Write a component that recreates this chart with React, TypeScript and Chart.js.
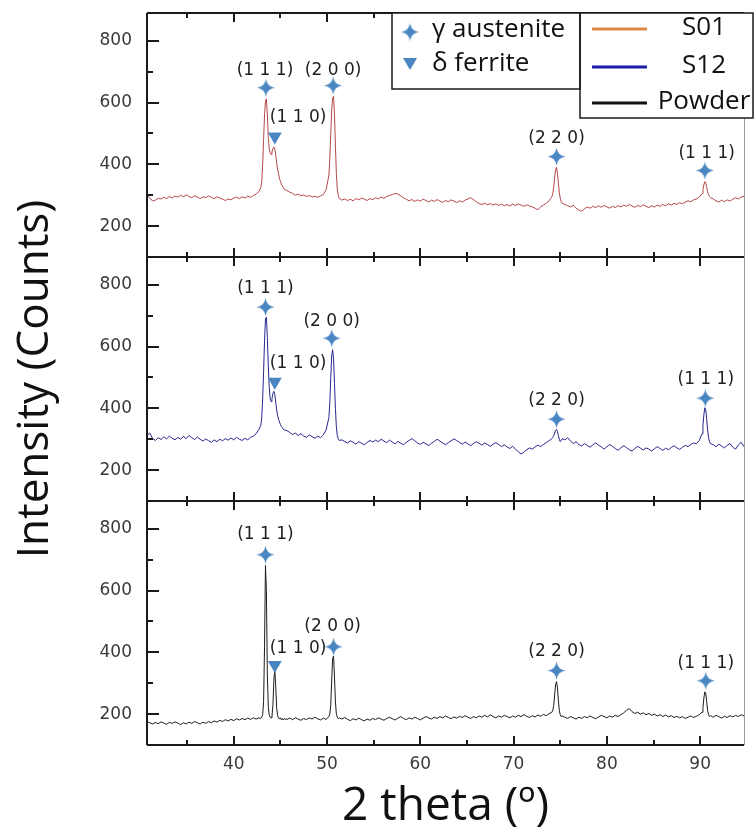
import React, { useEffect, useRef } from 'react';
import { Chart, registerables } from 'chart.js';

Chart.register(...registerables);

// ---------- data ----------
const twoTheta = [
  30.7, 31.0, 31.3, 31.6, 31.9, 32.2, 32.5, 32.8, 33.1, 33.4, 33.7, 34.0, 34.3, 34.6, 34.9, 35.2, 35.5, 35.8, 36.1, 36.4, 36.7, 37.0, 37.3, 37.6, 37.9, 38.2, 38.5, 38.8, 39.1, 39.4, 39.7, 40.0, 40.3, 40.6, 40.9, 41.2, 41.5, 41.8, 42.1, 42.4, 42.7,
  42.9, 43.0, 43.1, 43.2, 43.3, 43.4, 43.5, 43.6, 43.7, 43.8, 43.9, 44.0, 44.1, 44.2, 44.3, 44.4, 44.5, 44.6, 44.7, 44.8, 44.9, 45.0, 45.1, 45.2, 45.3, 45.4,
  45.7, 46.0, 46.3, 46.6, 46.9, 47.2, 47.5, 47.8, 48.1, 48.4, 48.7, 49.0, 49.3, 49.6, 49.9, 50.2,
  50.3, 50.4, 50.5, 50.6, 50.7, 50.8, 50.9, 51.0, 51.1, 51.2, 51.3,
  51.6, 51.9, 52.2, 52.5, 52.8, 53.1, 53.4, 53.7, 54.0, 54.3, 54.6, 54.9, 55.2, 55.5, 55.8, 56.1, 56.4, 56.7, 57.0, 57.3, 57.6, 57.9, 58.2, 58.5, 58.8, 59.1, 59.4, 59.7, 60.0, 60.3, 60.6, 60.9, 61.2, 61.5, 61.8, 62.1, 62.4, 62.7, 63.0, 63.3, 63.6, 63.9, 64.2, 64.5, 64.8, 65.1, 65.4, 65.7, 66.0, 66.3, 66.6, 66.9, 67.2, 67.5, 67.8, 68.1, 68.4, 68.7, 69.0, 69.3, 69.6, 69.9, 70.2, 70.5, 70.8, 71.1, 71.4, 71.7, 72.0, 72.3, 72.6, 72.9, 73.2, 73.5, 73.8, 74.1,
  74.2, 74.3, 74.4, 74.5, 74.6, 74.7, 74.8, 74.9, 75.0, 75.1, 75.2,
  75.5, 75.8, 76.1, 76.4, 76.7, 77.0, 77.3, 77.6, 77.9, 78.2, 78.5, 78.8, 79.1, 79.4, 79.7, 80.0, 80.3, 80.6, 80.9, 81.2, 81.5, 81.8, 82.1, 82.4, 82.7, 83.0, 83.3, 83.6, 83.9, 84.2, 84.5, 84.8, 85.1, 85.4, 85.7, 86.0, 86.3, 86.6, 86.9, 87.2, 87.5, 87.8, 88.1, 88.4, 88.7, 89.0, 89.3, 89.6, 89.9, 90.2,
  90.3, 90.4, 90.5, 90.6, 90.7, 90.8, 90.9, 91.0, 91.1,
  91.4, 91.7, 92.0, 92.3, 92.6, 92.9, 93.2, 93.5, 93.8, 94.1, 94.4, 94.7,
];

const s01Counts = [
  298, 292, 281, 284, 290, 288, 293, 289, 296, 291, 297, 294, 300, 295, 301, 296, 292, 298, 294, 289, 295, 292, 298, 293, 289, 295, 291, 287, 283, 288, 285, 291, 294, 289, 295, 291, 297, 293, 299, 304, 312,
  325, 345, 400, 480, 560, 605, 612, 560, 490, 450, 438, 432, 440, 452, 456, 450, 430, 405, 385, 370, 355, 345, 336, 330, 326, 320,
  315, 310, 306, 300, 304, 298, 301, 296, 299, 294, 297, 293, 298, 302, 318, 365,
  420, 500, 575, 615, 620, 560, 460, 370, 320, 300, 290,
  284, 288, 283, 287, 282, 289, 285, 291, 287, 283, 289, 286, 292, 288, 294, 290, 296, 299, 302, 306, 304, 298, 292, 287, 282, 286, 280, 285, 281, 287, 283, 278, 284, 280, 286, 281, 277, 283, 279, 285, 281, 276, 282, 278, 284, 288, 292, 286, 279, 273, 270, 274, 269, 273, 268, 272, 267, 271, 266, 270, 265, 271, 267, 272, 268, 264, 269, 265, 262, 258, 253, 262, 268, 274, 282, 295,
  305, 325, 355, 382, 390, 372, 340, 310, 290, 280, 274,
  270, 266, 262, 268, 258, 252, 248, 256, 262, 258, 264, 260, 266, 261, 267, 262, 258, 264, 260, 266, 262, 268, 264, 270, 265, 261, 267, 263, 269, 264, 260, 266, 262, 268, 264, 270, 266, 272, 268, 274, 270, 276, 272, 278, 282, 279, 285, 288, 294, 305,
  318, 334, 344, 340, 326, 312, 302, 296, 292,
  288, 282, 278, 284, 279, 285, 281, 287, 292, 288, 294, 297,
];

const s12Counts = [
  312, 320, 302, 296, 305, 299, 308, 301, 310, 303, 298, 306, 300, 309, 302, 312, 305, 299, 307, 300, 294, 301, 295, 290, 298, 292, 300, 295, 302, 297, 304, 298, 306, 300, 296, 303, 298, 306, 310, 318, 332,
  345, 370, 430, 520, 620, 690, 695, 630, 540, 470, 432, 422, 432, 448, 455, 445, 420, 395, 378, 365, 356, 348, 342, 338, 333, 330,
  328, 322, 315, 320, 312, 318, 310, 306, 314, 308, 303, 310, 305, 314, 330, 370,
  420, 500, 570, 590, 560, 480, 400, 340, 312, 302, 296,
  298, 292, 288, 295, 290, 284, 292, 287, 282, 290, 296, 291, 297, 292, 300, 294, 289, 297, 291, 285, 293, 287, 282, 290, 296, 302, 295, 288, 283, 290, 285, 279, 287, 293, 300, 294, 288, 282, 289, 295, 301, 296, 290, 284, 291, 285, 279, 286, 292, 287, 281, 288, 283, 277, 284, 289, 283, 276, 282, 275, 270, 277, 268, 260, 252, 258, 266, 272, 268, 275, 281, 276, 283, 289, 295, 302,
  306, 312, 320, 328, 332, 325, 312, 300, 292, 296, 302,
  298, 305, 294, 286, 292, 283, 278, 286, 280, 274, 282, 288, 281, 275, 268, 276, 283, 277, 270, 264, 272, 279, 273, 266, 262, 270, 277, 271, 265, 272, 268, 262, 269, 276, 270, 264, 271, 266, 273, 279, 272, 267, 274, 280, 276, 283, 288, 285, 296, 318,
  345, 380, 402, 395, 365, 330, 305, 292, 286,
  282, 276, 284, 278, 272, 280, 286, 274, 268, 282, 290, 276,
];

const powderCounts = [
  176, 172, 168, 173, 169, 175, 171, 167, 173, 170, 175, 171, 166, 172, 168, 174, 170, 176, 172, 168, 174, 170, 176, 172, 178, 174, 180, 176, 182, 178, 183, 179, 185, 181, 186, 182, 187, 183, 188, 184, 188,
  186, 190, 198, 240, 420, 682, 600, 330, 225, 198, 190, 188, 194, 230, 310, 342, 290, 220, 195, 188, 184, 188, 182, 186, 181, 185,
  183, 187, 182, 188, 184, 180, 186, 182, 188, 184, 190, 185, 181, 187, 183, 192,
  200, 230, 310, 380, 388, 320, 240, 200, 190, 185, 188,
  184, 189, 183, 179, 185, 181, 187, 182, 178, 184, 180, 186, 182, 188, 184, 180, 186, 190, 185, 181, 187, 192, 186, 182, 188, 184, 190, 186, 181, 187, 192, 188, 184, 190, 186, 192, 188, 194, 189, 185, 191, 187, 193, 189, 195, 190, 186, 192, 188, 194, 190, 196, 191, 198, 192, 188, 194, 190, 196, 192, 188, 194, 190, 196, 192, 198, 193, 189, 195, 191, 197, 193, 199, 195, 201, 206,
  212, 228, 262, 295, 305, 285, 245, 212, 198, 192, 194,
  190, 186, 192, 188, 184, 190, 186, 192, 188, 194, 189, 185, 191, 196, 192, 188, 194, 190, 196, 192, 198, 204, 212, 218, 208, 202, 206, 200, 204, 198, 202, 196, 200, 194, 198, 192, 197, 191, 195, 189, 193, 188, 192, 186, 190, 194, 189, 193, 198, 206,
  222, 252, 272, 268, 240, 212, 198, 192, 195,
  190, 196, 192, 187, 193, 189, 195, 191, 196, 192, 198, 194,
];

// phase markers (2theta, counts) per panel
const s01AusteniteX = [43.45, 50.65, 74.6, 90.5];
const s01AusteniteY = [648, 655, 425, 380];
const s01FerriteX = [44.4];
const s01FerriteY = [490];
const s12AusteniteX = [43.4, 50.5, 74.6, 90.55];
const s12AusteniteY = [728, 627, 365, 433];
const s12FerriteX = [44.4];
const s12FerriteY = [486];
const powderAusteniteX = [43.4, 50.7, 74.6, 90.6];
const powderAusteniteY = [716, 418, 341, 308];
const powderFerriteX = [44.4];
const powderFerriteY = [359];

// plane labels per panel
const planeLabels = ['(1 1 1)', '(2 0 0)', '(1 1 0)', '(2 2 0)', '(1 1 1)'];
const s01LabelX = [43.35, 50.65, 46.9, 74.6, 90.7];
const s01LabelY = [702, 702, 550, 485, 436];
const s12LabelX = [43.4, 50.5, 46.9, 74.6, 90.6];
const s12LabelY = [787, 680, 545, 425, 492];
const powderLabelX = [43.4, 50.6, 46.9, 74.6, 90.6];
const powderLabelY = [781, 483, 413, 402, 365];

// axis ticks
const yTickLabels = [200, 400, 600, 800];
const yMinorTicks = [100, 300, 500, 700];
const xTickLabels = [40, 50, 60, 70, 80, 90];
const xMinorTicks = [35, 45, 55, 65, 75, 85];

const seriesNames = ['S01', 'S12', 'Powder'];
const phaseNames = ['γ austenite', 'δ ferrite'];

// ---------- helpers ----------
const MARKER_BLUE = '#4a86c2';

function makeStar(size: number, color: string) {
  const c = document.createElement('canvas');
  c.width = size;
  c.height = size;
  const g = c.getContext('2d')!;
  const m = size / 2;
  const r = size / 2 - 0.5;
  g.beginPath();
  g.moveTo(m, m - r);
  g.quadraticCurveTo(m + r * 0.12, m - r * 0.12, m + r, m);
  g.quadraticCurveTo(m + r * 0.12, m + r * 0.12, m, m + r);
  g.quadraticCurveTo(m - r * 0.12, m + r * 0.12, m - r, m);
  g.quadraticCurveTo(m - r * 0.12, m - r * 0.12, m, m - r);
  g.closePath();
  g.fillStyle = color;
  g.fill();
  return c;
}

const pts = (xs: number[], ys: number[]) => xs.map((x, i) => ({ x, y: ys[i] }));

export default function App() {
  const ref = useRef<HTMLCanvasElement | null>(null);

  useEffect(() => {
    if (!ref.current) return;
    const star = makeStar(19, MARKER_BLUE);

    const panels = [
      { id: 'yS01', lx: s01LabelX, ly: s01LabelY },
      { id: 'yS12', lx: s12LabelX, ly: s12LabelY },
      { id: 'yPow', lx: powderLabelX, ly: powderLabelY },
    ];

    const framePlugin = {
      id: 'frames',
      afterDatasetsDraw(chart: any) {
        const ctx = chart.ctx;
        const { left, right } = chart.chartArea;
        const xs = chart.scales.x;
        ctx.save();
        // plane labels
        ctx.font = '17px "DejaVu Sans"';
        ctx.fillStyle = '#1e1e1e';
        ctx.textAlign = 'center';
        ctx.textBaseline = 'middle';
        for (const p of panels) {
          const ys = chart.scales[p.id];
          planeLabels.forEach((t, i) => {
            ctx.fillText(t, xs.getPixelForValue(p.lx[i]), ys.getPixelForValue(p.ly[i]));
          });
        }
        // frames & inward ticks
        ctx.strokeStyle = '#1a1a1a';
        ctx.lineWidth = 2;
        for (const p of panels) {
          const s = chart.scales[p.id];
          const top = s.top;
          const bottom = s.bottom;
          ctx.beginPath();
          ctx.moveTo(left, top);
          ctx.lineTo(left, bottom);
          ctx.moveTo(left, top);
          ctx.lineTo(right, top);
          ctx.moveTo(left, bottom);
          ctx.lineTo(right, bottom);
          const yt = (v: number, len: number) => {
            const py = Math.round(s.getPixelForValue(v));
            ctx.moveTo(left, py);
            ctx.lineTo(left + len, py);
          };
          yTickLabels.forEach((v) => yt(v, 12));
          yMinorTicks.forEach((v) => yt(v, 6));
          const xt = (v: number, len: number) => {
            const px = Math.round(xs.getPixelForValue(v));
            ctx.moveTo(px, top);
            ctx.lineTo(px, top + len);
            ctx.moveTo(px, bottom);
            ctx.lineTo(px, bottom - len);
          };
          xTickLabels.forEach((v) => xt(v, 9));
          xMinorTicks.forEach((v) => xt(v, 5));
          ctx.stroke();
        }
        ctx.strokeStyle = '#9a9a9a';
        ctx.lineWidth = 1;
        ctx.beginPath();
        ctx.moveTo(right + 0.5, chart.chartArea.top);
        ctx.lineTo(right + 0.5, chart.chartArea.bottom);
        ctx.stroke();
        ctx.restore();
      },
      afterDraw(chart: any) {
        const ctx = chart.ctx;
        ctx.save();
        ctx.fillStyle = '#ffffff';
        ctx.fillRect(392, 13, 188, 76);
        ctx.fillRect(580, 13, 173, 105);
        ctx.strokeStyle = '#1a1a1a';
        ctx.lineWidth = 1.5;
        ctx.strokeRect(392, 13, 188, 76);
        ctx.strokeRect(580, 13, 173, 105);
        ctx.drawImage(star, 410 - 9.5, 32 - 9.5);
        ctx.fillStyle = MARKER_BLUE;
        ctx.beginPath();
        ctx.moveTo(403, 58);
        ctx.lineTo(417, 58);
        ctx.lineTo(410, 70);
        ctx.closePath();
        ctx.fill();
        ctx.fillStyle = '#111';
        ctx.font = '26px "Open Sans"';
        ctx.textAlign = 'left';
        ctx.textBaseline = 'middle';
        ctx.fillText(phaseNames[0], 432, 30);
        ctx.fillText(phaseNames[1], 432, 64);
        const lineColors = ['#e0894c', '#1c1ca8', '#111111'];
        const rows = [29, 67, 103];
        seriesNames.forEach((n, i) => {
          ctx.strokeStyle = lineColors[i];
          ctx.lineWidth = 3;
          ctx.beginPath();
          ctx.moveTo(592, rows[i]);
          ctx.lineTo(647, rows[i]);
          ctx.stroke();
          ctx.fillStyle = '#111';
          ctx.textAlign = 'center';
          ctx.fillText(n, 704, rows[i] - 1);
        });
        ctx.restore();
      },
    };

    const yScale = (title: boolean) => ({
      type: 'linear',
      position: 'left',
      stack: 'panels',
      stackWeight: 1,
      offset: false,
      min: 100,
      max: 890,
      grid: { display: false, drawTicks: false },
      border: { display: false },
      afterBuildTicks: (s: any) => {
        s.ticks = yTickLabels.map((v) => ({ value: v }));
      },
      ticks: {
        autoSkip: false,
        padding: 15,
        color: '#3a3a3a',
        font: { family: '"DejaVu Sans"', size: 17 },
      },
      title: title
        ? {
            display: true,
            text: 'Intensity (Counts)',
            color: '#111',
            font: { family: '"Open Sans"', size: 44 },
            padding: { top: 9, bottom: 0 },
          }
        : { display: false },
      afterFit: (s: any) => {
        s.width = 147;
        s.paddingTop = 0;
        s.paddingBottom = 0;
      },
    });

    const chart = new Chart(ref.current, {
      type: 'scatter',
      data: {
        datasets: [
          { data: pts(s01AusteniteX, s01AusteniteY), yAxisID: 'yS01', pointStyle: star, pointRadius: 9 },
          { data: pts(s12AusteniteX, s12AusteniteY), yAxisID: 'yS12', pointStyle: star, pointRadius: 9 },
          { data: pts(powderAusteniteX, powderAusteniteY), yAxisID: 'yPow', pointStyle: star, pointRadius: 9 },
          { data: pts(s01FerriteX, s01FerriteY), yAxisID: 'yS01', pointStyle: 'triangle', rotation: 180, pointRadius: 8, backgroundColor: MARKER_BLUE, borderWidth: 0 },
          { data: pts(s12FerriteX, s12FerriteY), yAxisID: 'yS12', pointStyle: 'triangle', rotation: 180, pointRadius: 8, backgroundColor: MARKER_BLUE, borderWidth: 0 },
          { data: pts(powderFerriteX, powderFerriteY), yAxisID: 'yPow', pointStyle: 'triangle', rotation: 180, pointRadius: 8, backgroundColor: MARKER_BLUE, borderWidth: 0 },
          { data: pts(twoTheta, s01Counts), yAxisID: 'yS01', showLine: true, borderColor: '#b4474c', borderWidth: 1, pointRadius: 0 },
          { data: pts(twoTheta, s12Counts), yAxisID: 'yS12', showLine: true, borderColor: '#26268f', borderWidth: 1, pointRadius: 0 },
          { data: pts(twoTheta, powderCounts), yAxisID: 'yPow', showLine: true, borderColor: '#1c1c1c', borderWidth: 1, pointRadius: 0 },
        ] as any,
      },
      options: {
        animation: false,
        responsive: false,
        layout: { padding: { top: 13, right: 2, left: 0, bottom: 0 } },
        plugins: { legend: { display: false }, tooltip: { enabled: false } },
        scales: {
          x: {
            type: 'linear',
            position: 'bottom',
            min: 30.7,
            max: 94.7,
            grid: { display: false, drawTicks: false },
            border: { display: false },
            afterBuildTicks: (s: any) => {
              s.ticks = xTickLabels.map((v) => ({ value: v }));
            },
            ticks: {
              autoSkip: false,
              padding: 9,
              color: '#3a3a3a',
              font: { family: '"DejaVu Sans"', size: 17 },
            },
            title: {
              display: true,
              text: '2 theta (º)',
              color: '#111',
              font: { family: '"Open Sans"', size: 46 },
              padding: { top: 0, bottom: 0 },
            },
            afterFit: (s: any) => {
              s.height = 89;
              s.paddingLeft = 0;
              s.paddingRight = 0;
            },
          },
          yPow: yScale(false),
          yS12: yScale(true),
          yS01: yScale(false),
        } as any,
      },
      plugins: [framePlugin],
    });
    return () => chart.destroy();
  }, []);

  return (
    <div style={{ position: 'absolute', left: 0, top: 0, width: 754, height: 834, background: '#fff' }}>
      <canvas ref={ref} width={754} height={834} style={{ display: 'block' }} />
    </div>
  );
}
